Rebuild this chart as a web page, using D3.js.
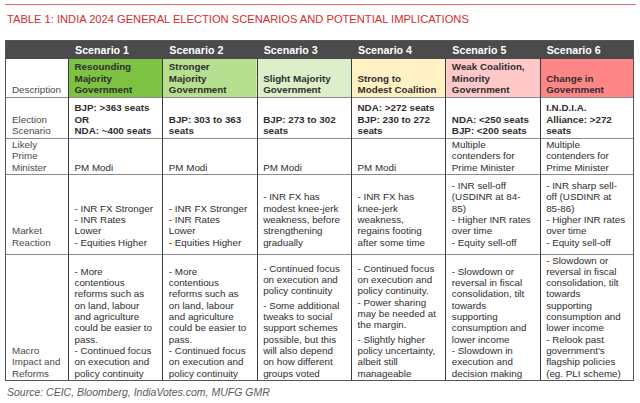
<!DOCTYPE html>
<html>
<head>
<meta charset="utf-8">
<script src="https://cdn.jsdelivr.net/npm/d3@7"></script>
<style>
    body { margin: 0; background: #fff; }
    svg { display: block; font-family: "Liberation Sans", Arial, sans-serif; }
</style>
</head>
<body>
<svg width="640" height="403"></svg>
<script>
const title = "TABLE 1: INDIA 2024 GENERAL ELECTION SCENARIOS AND POTENTIAL IMPLICATIONS";
const source = "Source: CEIC, Bloomberg, IndiaVotes.com, MUFG GMR";

const scenarios = ["Scenario 1", "Scenario 2", "Scenario 3", "Scenario 4", "Scenario 5", "Scenario 6"];

const rowLabels = [
    ["Description"],
    ["Election", "Scenario"],
    ["Likely", "Prime", "Minister"],
    ["Market", "Reaction"],
    ["Macro", "Impact and", "Reforms"]
];

// each cell: list of paragraphs, each paragraph a list of lines
const descriptions = [
    [["Resounding", "Majority", "Government"]],
    [["Stronger", "Majority", "Government"]],
    [["Slight Majority", "Government"]],
    [["Strong to", "Modest Coalition"]],
    [["Weak Coalition,", "Minority", "Government"]],
    [["Change in", "Government"]]
];

const elections = [
    [["BJP: >363 seats", "OR", "NDA: ~400 seats"]],
    [["BJP: 303 to 363", "seats"]],
    [["BJP: 273 to 302", "seats"]],
    [["NDA: >272 seats", "BJP: 230 to 272", "seats"]],
    [["NDA: <250 seats", "BJP: <200 seats"]],
    [["I.N.D.I.A.", "Alliance: >272", "seats"]]
];

const primeMinisters = [
    [["PM Modi"]],
    [["PM Modi"]],
    [["PM Modi"]],
    [["PM Modi"]],
    [["Multiple", "contenders for", "Prime Minister"]],
    [["Multiple", "contenders for", "Prime Minister"]]
];

const marketReactions = [
    [["- INR FX Stronger", "- INR Rates", "Lower", "- Equities Higher"]],
    [["- INR FX Stronger", "- INR Rates", "Lower", "- Equities Higher"]],
    [["- INR FX has", "modest knee-jerk", "weakness, before", "strengthening", "gradually"]],
    [["- INR FX has", "knee-jerk", "weakness,", "regains footing", "after some time"]],
    [["- INR sell-off", "(USDINR at 84-", "85)", "- Higher INR rates", "over time", "- Equity sell-off"]],
    [["- INR sharp sell-", "off (USDINR at", "85-86)", "- Higher INR rates", "over time", "- Equity sell-off"]]
];

const macroImpacts = [
    [["- More", "contentious", "reforms such as", "on land, labour", "and agriculture", "could be easier to", "pass.", "- Continued focus", "on execution and", "policy continuity"]],
    [["- More", "contentious", "reforms such as", "on land, labour", "and agriculture", "could be easier to", "pass.", "- Continued focus", "on execution and", "policy continuity"]],
    [["- Continued focus", "on execution and", "policy continuity"],
     ["- Some additional", "tweaks to social", "support schemes", "possible, but this", "will also depend", "on how different", "groups voted"]],
    [["- Continued focus", "on execution and", "policy continuity.", "- Power sharing", "may be needed at", "the margin."],
     ["- Slightly higher", "policy uncertainty,", "albeit still", "manageable"]],
    [["- Slowdown or", "reversal in fiscal", "consolidation, tilt", "towards", "supporting", "consumption and", "lower income", "- Slowdown in", "execution and", "decision making"]],
    [["- Slowdown or", "reversal in fiscal", "consolidation, tilt", "towards", "supporting", "consumption and", "lower income", "- Relook past", "government's", "flagship policies", "(eg. PLI scheme)"]]
];

const descColors = ["#7dc243", "#b7df90", "#dcefca", "#fff1c4", "#ffc9c9", "#ff8686"];

// layout
const left = 5, labelRight = 68, right = 634;
const headerTop = 40, headerBottom = 59;
const rowHeights = [38, 41, 36, 80, 127];
const rowBottomPad = [4, 4, 3.5, 8.5, 4.5];
const lineH = 11.3, paraGap = 3;

const rows = [
    { label: rowLabels[0], cells: descriptions, bold: true },
    { label: rowLabels[1], cells: elections, bold: true },
    { label: rowLabels[2], cells: primeMinisters, bold: false },
    { label: rowLabels[3], cells: marketReactions, bold: false },
    { label: rowLabels[4], cells: macroImpacts, bold: false }
];

let acc = headerBottom;
rows.forEach((r, i) => {
    r.y0 = acc;
    acc += rowHeights[i];
    r.y1 = acc;
    r.pad = rowBottomPad[i];
});
const tableBottom = acc;

const svg = d3.select("svg");

const x = d3.scaleBand()
    .domain(scenarios)
    .range([labelRight, right]);

// top rule + title
svg.append("line")
    .attr("x1", 5).attr("x2", 636)
    .attr("y1", 4.5).attr("y2", 4.5)
    .attr("stroke", "#e36a6a")
    .attr("stroke-width", 1);

svg.append("text")
    .attr("x", 7).attr("y", 22.5)
    .attr("fill", "#d42d2d")
    .style("font-size", "11.15px")
    .text(title);

// header row
svg.append("rect")
    .attr("x", left).attr("y", headerTop)
    .attr("width", right - left).attr("height", headerBottom - headerTop)
    .attr("fill", "#4b4b4b");

svg.append("g").selectAll("text")
    .data(scenarios)
    .join("text")
    .attr("x", d => x(d) + 7)
    .attr("y", headerBottom - 5.5)
    .attr("fill", "#fff")
    .style("font-size", "10.7px")
    .style("font-weight", "bold")
    .text(d => d);

// description fills
svg.append("g").selectAll("rect")
    .data(scenarios)
    .join("rect")
    .attr("x", d => x(d))
    .attr("y", rows[0].y0)
    .attr("width", x.bandwidth())
    .attr("height", rows[0].y1 - rows[0].y0)
    .attr("fill", (d, i) => descColors[i]);

function drawLines(g, paras, x0, bottom, opts) {
    const nLines = d3.sum(paras, p => p.length);
    const total = (nLines - 1) * lineH + (paras.length - 1) * paraGap;
    let y = bottom - total;
    paras.forEach((p, pi) => {
        if (pi > 0) y += paraGap;
        p.forEach(line => {
            g.append("text")
                .attr("x", x0)
                .attr("y", y)
                .attr("fill", opts.color)
                .style("font-size", "9.8px")
                .style("font-weight", opts.bold ? "bold" : "normal")
                .text(line);
            y += lineH;
        });
    });
}

const body = svg.append("g");
rows.forEach(r => {
    drawLines(body, [r.label], left + 7, r.y1 - r.pad, { color: "#4a4a4a", bold: false });
    r.cells.forEach((cell, i) => {
        drawLines(body, cell, x(scenarios[i]) + 6.5, r.y1 - r.pad, { color: "#2e2e2e", bold: r.bold });
    });
});

// horizontal grid lines
svg.append("g").selectAll("line")
    .data(rows.slice(0, -1))
    .join("line")
    .attr("x1", left).attr("x2", right)
    .attr("y1", d => d.y1 + 0.5).attr("y2", d => d.y1 + 0.5)
    .attr("stroke", "#8a8a8a");

// vertical grid lines
svg.append("g").selectAll("line")
    .data(scenarios)
    .join("line")
    .attr("x1", d => Math.round(x(d)) + 0.5).attr("x2", d => Math.round(x(d)) + 0.5)
    .attr("y1", headerBottom).attr("y2", tableBottom)
    .attr("stroke", "#3a3a3a");

// outer border
svg.append("rect")
    .attr("x", left + 0.5).attr("y", headerTop + 0.5)
    .attr("width", right - left - 1).attr("height", tableBottom - headerTop - 1)
    .attr("fill", "none")
    .attr("stroke", "#555");

svg.append("text")
    .attr("x", 7).attr("y", 395.5)
    .attr("fill", "#5a5a5a")
    .style("font-size", "10.5px")
    .style("font-style", "italic")
    .text(source);
</script>
</body>
</html>
